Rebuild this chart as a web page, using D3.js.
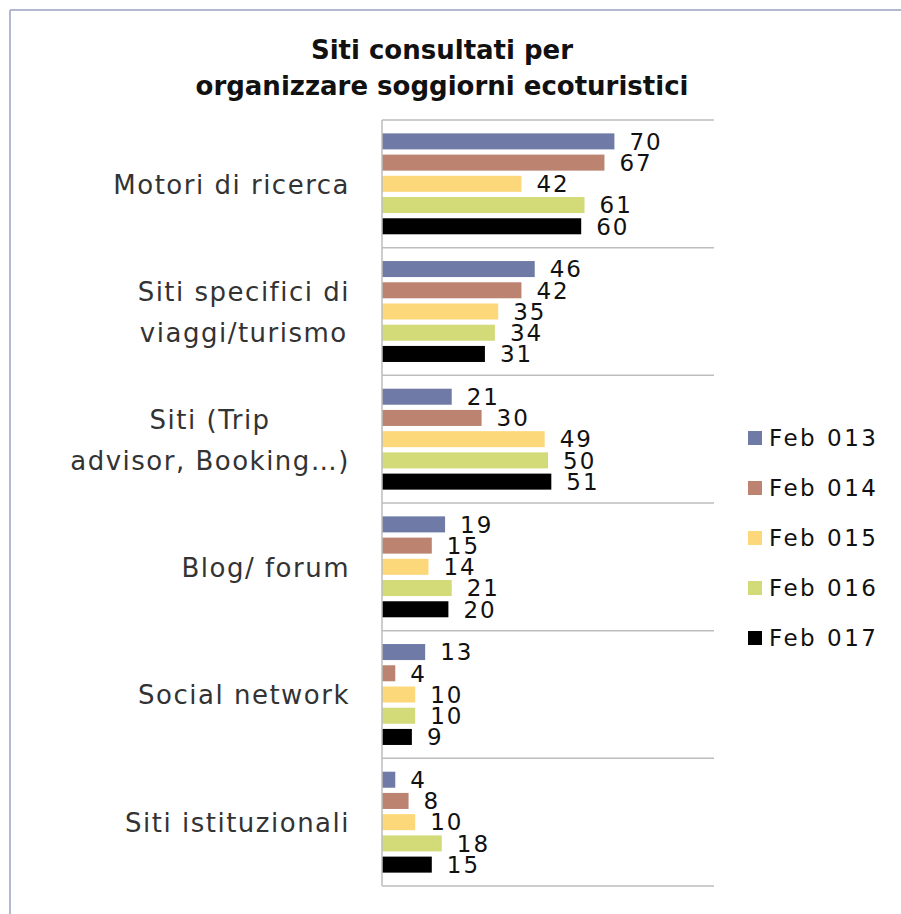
<!DOCTYPE html>
<html>
<head>
<meta charset="utf-8">
<script src="https://cdn.jsdelivr.net/npm/d3@7"></script>
<style>
  body { margin: 0; background: #fff; }
  text { font-family: "DejaVu Sans", sans-serif; }
</style>
</head>
<body>
<svg id="chart" width="901" height="914"></svg>
<script>
const title = ['Siti consultati per', 'organizzare soggiorni ecoturistici'];
const categories = [
  ['Motori di ricerca'],
  ['Siti specifici di', 'viaggi/turismo'],
  ['Siti (Trip', 'advisor, Booking\u2026)'],
  ['Blog/ forum'],
  ['Social network'],
  ['Siti istituzionali']
];
const seriesNames = ['Feb 013', 'Feb 014', 'Feb 015', 'Feb 016', 'Feb 017'];
const feb013 = [70, 46, 21, 19, 13, 4];
const feb014 = [67, 42, 30, 15, 4, 8];
const feb015 = [42, 35, 49, 14, 10, 10];
const feb016 = [61, 34, 50, 21, 10, 18];
const feb017 = [60, 31, 51, 20, 9, 15];
const colors = ['#6f7ba6', '#bb8370', '#fcd87a', '#d3da78', '#000000'];

const values = [feb013, feb014, feb015, feb016, feb017];
const svg = d3.select('#chart');

// frame lines on top and left
svg.append('line').attr('x1', 10).attr('x2', 901).attr('y1', 10).attr('y2', 10)
  .attr('stroke', '#b3b8d2').attr('stroke-width', 2);
svg.append('line').attr('x1', 10).attr('x2', 10).attr('y1', 10).attr('y2', 914)
  .attr('stroke', '#b3b8d2').attr('stroke-width', 2);

const x = d3.scaleLinear().domain([0, 100]).range([382, 714]);
const y = d3.scaleBand().domain(d3.range(categories.length)).range([120, 886]);
const ySub = d3.scaleBand().domain(d3.range(seriesNames.length))
  .range([0, y.bandwidth()]).paddingInner(0.245).paddingOuter(0.63);

// title
svg.append('g').selectAll('text').data(title).join('text')
  .attr('x', 442).attr('y', (d, i) => 59 + i * 36)
  .attr('text-anchor', 'middle')
  .attr('font-size', 26).attr('font-weight', 'bold').attr('fill', '#111')
  .text(d => d);

// separators between categories
svg.append('g').selectAll('line').data(d3.range(categories.length + 1)).join('line')
  .attr('x1', x(0)).attr('x2', x(100))
  .attr('y1', i => i < categories.length ? y(i) : y.range()[1])
  .attr('y2', i => i < categories.length ? y(i) : y.range()[1])
  .attr('stroke', '#bdbdbd').attr('stroke-width', 1.5);

// bars
const groups = svg.append('g').selectAll('g').data(categories).join('g')
  .attr('transform', (d, i) => `translate(0,${y(i)})`);

groups.each(function(cat, ci) {
  const g = d3.select(this);
  seriesNames.forEach((s, si) => {
    const v = values[si][ci];
    g.append('rect')
      .attr('x', x(0)).attr('y', ySub(si))
      .attr('width', x(v) - x(0)).attr('height', ySub.bandwidth())
      .attr('fill', colors[si]);
    g.append('text')
      .attr('x', x(v) + 15).attr('y', ySub(si) + ySub.bandwidth() / 2)
      .attr('dy', '0.36em')
      .attr('font-size', 23).attr('letter-spacing', 2).attr('fill', '#111')
      .text(v);
  });
});

// axis line
svg.append('line').attr('x1', x(0)).attr('x2', x(0))
  .attr('y1', y.range()[0]).attr('y2', y.range()[1])
  .attr('stroke', '#bdbdbd').attr('stroke-width', 1.5);

// category labels: block right-aligned to the axis, lines centred within it
groups.each(function(lines) {
  const g = d3.select(this);
  const texts = lines.map((t, li) => g.append('text')
    .attr('y', y.bandwidth() / 2 + 10 + (li - (lines.length - 1) / 2) * 41)
    .attr('text-anchor', 'middle')
    .attr('font-size', 26).attr('letter-spacing', 1.5).attr('fill', '#333')
    .text(t));
  const maxW = d3.max(texts, t => t.node().getComputedTextLength());
  texts.forEach(t => t.attr('x', 350 - maxW / 2));
});

// legend
const legend = svg.append('g').selectAll('g').data(seriesNames).join('g')
  .attr('transform', (d, i) => `translate(748,${438 + i * 50})`);
legend.append('rect').attr('x', 0).attr('y', -7).attr('width', 14).attr('height', 14)
  .attr('fill', (d, i) => colors[i]);
legend.append('text').attr('x', 21).attr('y', 0).attr('dy', '0.36em')
  .attr('font-size', 23).attr('letter-spacing', 2.5).attr('fill', '#111')
  .text(d => d);
</script>
</body>
</html>
